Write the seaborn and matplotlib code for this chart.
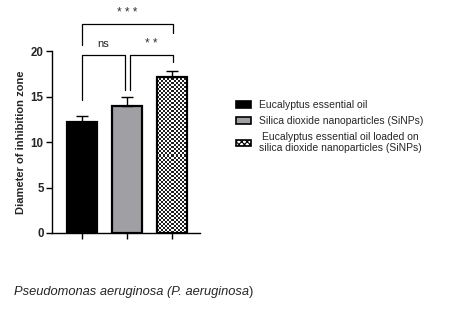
import matplotlib
matplotlib.use("Agg")
import matplotlib.pyplot as plt
import seaborn as sns
import pandas as pd
import numpy as np
from matplotlib.patches import Patch

categories = ["Eucalyptus essential oil",
              "Silica dioxide nanoparticles (SiNPs)",
              "Eucalyptus essential oil loaded on\nsilica dioxide nanoparticles (SiNPs)"]
means = [12.2, 14.0, 17.2]
errors = [0.65, 1.0, 0.65]
yticks = [0, 5, 10, 15, 20]
ylabel = "Diameter of inhibition zone"
caption_italic = "Pseudomonas aeruginosa (P. aeruginosa"
caption_end = ")"
comparisons = [(0, 1, "ns"), (1, 2, "* *"), (0, 2, "* * *")]

sns.set_theme(style="ticks")
plt.rcParams['font.family'] = ['Liberation Sans', 'DejaVu Sans']
plt.rcParams['hatch.linewidth'] = 0.8

fig = plt.figure(figsize=(4.58, 3.17), dpi=100)
ax = fig.add_axes([0.1135, 0.265, 0.3232, 0.574])

df = pd.DataFrame({"cat": categories, "val": means})
colors = ["#000000", "#A0A0A4", "#FFFFFF"]
sns.barplot(data=df, x="cat", y="val", hue="cat", palette=colors, legend=False,
            width=0.667, edgecolor="black", linewidth=1.6, ax=ax, errorbar=None)

ax.set_ylim(0, 20)
ax.set_xlim(-0.667, 2.62)

# checkerboard fill for third bar, clipped to the bar
bar3 = ax.patches[2]
bx, bw, bh = bar3.get_x(), bar3.get_width(), bar3.get_height()
nx = 15
ny = int(round(bh * 9.1 / 2.0))
checker = (np.add.outer(np.arange(ny), np.arange(nx)) % 2).astype(float)
im = ax.imshow(checker, cmap="gray", vmin=-0.15, vmax=1.0, interpolation="nearest",
               extent=[bx, bx + bw, 0, bh], aspect="auto", zorder=bar3.get_zorder() - 0.1)
im.set_clip_path(bar3)
bar3.set_facecolor("none")
bar3.set_zorder(bar3.get_zorder() + 0.2)
ax.set_xlim(-0.667, 2.62)
ax.set_ylim(0, 20)

ax.errorbar(range(3), means, yerr=[np.zeros(3), errors], fmt="none",
            ecolor="black", elinewidth=1.0, capsize=4, capthick=1.0, zorder=5)

ax.set_yticks(yticks)
ax.set_yticklabels([str(t) for t in yticks], fontsize=8.3, fontweight="bold")
ax.set_xticks(range(3))
ax.set_xticklabels([])
ax.set_xlabel("")
ax.set_ylabel(ylabel, fontsize=8.0, fontweight="bold", labelpad=3)
for s in ["top", "right"]:
    ax.spines[s].set_visible(False)
for s in ["left", "bottom"]:
    ax.spines[s].set_linewidth(1.0)
    ax.spines[s].set_color("black")
ax.tick_params(axis="both", length=4, width=1.0, color="black", pad=2)

brk = {
    (0, 1): (-0.0, 0.95, 19.56, 14.6, 15.7),
    (1, 2): (1.07, 2.02, 19.56, 15.7, 18.8),
    (0, 2): (-0.0, 2.02, 22.97, 20.66, 21.98),
}
for i, j, lab in comparisons:
    x1, x2, top, yl, yr = brk[(i, j)]
    ax.plot([x1, x1, x2, x2], [yl, top, top, yr], color="black", lw=0.9,
            clip_on=False)
    if lab == "ns":
        ax.text((x1 + x2) / 2, top + 0.7, lab, ha="center", va="bottom",
                fontsize=8, color="#222222", clip_on=False)
    else:
        ax.text((x1 + x2) / 2, top + 1.2, lab, ha="center", va="center",
                fontsize=8.5, color="#333333", clip_on=False)

handles = [Patch(facecolor=colors[k], edgecolor="black", linewidth=1.2,
                 hatch="xxxxxx" if k == 2 else None) for k in range(3)]
leg = fig.legend(handles, categories, loc="upper left", bbox_to_anchor=(0.495, 0.713),
                 frameon=False, fontsize=7.5, handlelength=1.4, handleheight=0.6,
                 labelspacing=0.55, handletextpad=0.8)
for t in leg.get_texts():
    t.set_multialignment("center")

cap = fig.text(0.03, 0.079, caption_italic, fontsize=9.3, style="italic",
               ha="left", va="center")
fig.canvas.draw()
bb = cap.get_window_extent()
fig.text(bb.x1 / fig.bbox.width, 0.079, caption_end, fontsize=9.3,
         ha="left", va="center")
fig.savefig("out.png", dpi=100)
